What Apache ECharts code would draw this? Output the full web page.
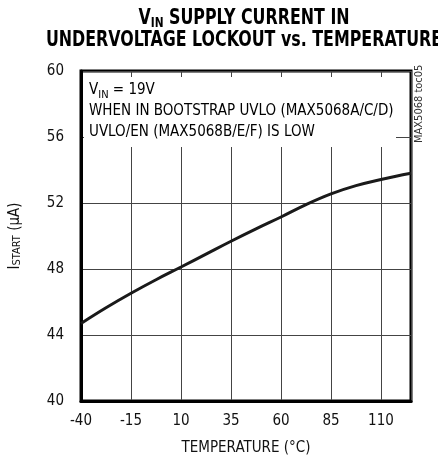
<!DOCTYPE html>
<html>
<head>
<meta charset="utf-8">
<script src="https://cdn.jsdelivr.net/npm/echarts@6/dist/echarts.min.js"></script>
<style>html,body{margin:0;padding:0;background:#fff;}#c{width:438px;height:461px;}</style>
</head>
<body>
<div id="c"></div>
<script>
// Data
var temperatures = [-40, -27.5, -15, -2.5, 10, 22.5, 35, 47.5, 60, 72.5, 85, 97.5, 110, 117.5, 125];
var istart =       [44.7, 45.65, 46.53, 47.35, 48.12, 48.9, 49.68, 50.43, 51.15, 51.9, 52.55, 53.05, 53.42, 53.62, 53.8];
var xTickLabels = ['-40', '-15', '10', '35', '60', '85', '110'];
var yTickLabels = ['40', '44', '48', '52', '56', '60'];

var X0 = -40; // axis offset so ticks start on multiples of the interval
var FONT = "'Liberation Sans Narrow', 'DejaVu Sans Condensed', 'Arial Narrow', sans-serif";

var seriesData = temperatures.map(function (t, i) { return [t - X0, istart[i]]; });

var chart = echarts.init(document.getElementById('c'), null, {renderer: 'canvas'});
chart.setOption({
  animation: false,
  backgroundColor: '#fff',
  grid: {left: 81, top: 71, width: 330, height: 330, outerBoundsMode: 'none', containLabel: false,
    show: true, borderColor: '#000', borderWidth: 3, backgroundColor: 'transparent'},
  xAxis: {
    type: 'value', min: 0, max: 165, interval: 25,
    axisLine: {show: true, lineStyle: {color: '#000', width: 3}},
    axisTick: {show: false},
    splitLine: {show: true, lineStyle: {color: '#444', width: 1}},
    axisLabel: {
      color: '#111', fontFamily: FONT, fontSize: 15, margin: 13,
      formatter: function (v) { var k = Math.round(v / 25); return (Math.abs(v - k * 25) < 1e-6 && k < xTickLabels.length) ? xTickLabels[k] : ''; }
    },
    name: 'TEMPERATURE (°C)', nameLocation: 'middle', nameGap: 40,
    nameTextStyle: {color: '#111', fontFamily: FONT, fontSize: 15}
  },
  yAxis: {
    type: 'value', min: 40, max: 60, interval: 4,
    axisLine: {show: true, lineStyle: {color: '#000', width: 3}},
    axisTick: {show: false},
    splitLine: {show: true, lineStyle: {color: '#444', width: 1}},
    axisLabel: {
      color: '#111', fontFamily: FONT, fontSize: 15, margin: 17,
      formatter: function (v) { var k = Math.round((v - 40) / 4); return yTickLabels[k] || ''; }
    },
    name: '{a|I}{s|START}{a| (µA)}', nameLocation: 'middle', nameGap: 58,
    nameTextStyle: {
      color: '#111', fontFamily: FONT, fontSize: 15,
      rich: {
        a: {fontFamily: FONT, fontSize: 15, color: '#111'},
        s: {fontFamily: FONT, fontSize: 11, color: '#111', verticalAlign: 'bottom', padding: [5, 0, 0, 0]}
      }
    }
  },
  series: [{
    type: 'line', data: seriesData, smooth: 0.4, showSymbol: false,
    lineStyle: {color: '#1a1a1a', width: 3}, z: 3
  }],
  graphic: [
    {type: 'text', x: 244, y: 8, scaleX: 0.84, z: 10,
      style: {
        text: '{b|V}{bs|IN}{b| SUPPLY CURRENT IN}\n{b|UNDERVOLTAGE LOCKOUT vs. TEMPERATURE}',
        align: 'center',
        rich: {
          b: {fontFamily: FONT, fontWeight: 'bold', fontSize: 21, lineHeight: 22, color: '#000'},
          bs: {fontFamily: FONT, fontWeight: 'bold', fontSize: 14, lineHeight: 22, color: '#000', verticalAlign: 'bottom', padding: [6, 0, 0, 0]}
        }
      }
    },
    {type: 'rect', shape: {x: 84, y: 77, width: 312, height: 70}, style: {fill: '#fff'}, z: 5},
    {type: 'text', x: 89, y: 80, z: 6,
      style: {
        text: '{a|V}{s|IN}{a| = 19V}\n{a|WHEN IN BOOTSTRAP UVLO (MAX5068A/C/D)}\n{a|UVLO/EN (MAX5068B/E/F) IS LOW}',
        rich: {
          a: {fontFamily: FONT, fontSize: 15, lineHeight: 21, color: '#111'},
          s: {fontFamily: FONT, fontSize: 11, lineHeight: 21, color: '#111', verticalAlign: 'bottom', padding: [4, 0, 0, 0]}
        }
      }
    },
    {type: 'text', x: 414, y: 143, rotation: Math.PI / 2, z: 6,
      style: {text: 'MAX5068 toc05', fontFamily: FONT, fontSize: 11, fill: '#333'}
    }
  ]
});
</script>
</body>
</html>
